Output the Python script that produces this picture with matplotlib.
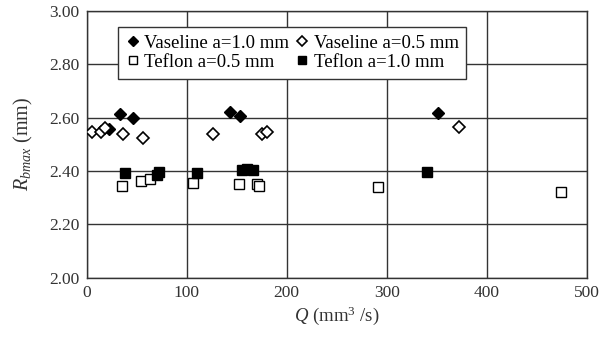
import matplotlib
matplotlib.use("Agg")
import matplotlib.pyplot as plt

plt.rcParams['font.family'] = ['Liberation Serif', 'DejaVu Serif']
plt.rcParams['mathtext.fontset'] = 'custom'
plt.rcParams['mathtext.rm'] = 'Liberation Serif'
plt.rcParams['mathtext.it'] = 'Liberation Serif:italic'

# Vaseline a=1.0 mm (filled diamonds)
vas10_q = [22.7, 33.3, 46, 143.3, 153.3, 351.7]
vas10_r = [2.556, 2.613, 2.600, 2.620, 2.606, 2.617]
# Vaseline a=0.5 mm (open diamonds)
vas05_q = [5.7, 14, 18.3, 36, 56.7, 126.7, 175, 180, 372.7]
vas05_r = [2.547, 2.547, 2.562, 2.539, 2.523, 2.539, 2.539, 2.547, 2.564]
# Teflon a=0.5 mm (open squares)
tef05_q = [35.7, 54.3, 63.3, 106.7, 152.7, 170, 172, 291, 474.3]
tef05_r = [2.345, 2.363, 2.369, 2.356, 2.351, 2.350, 2.345, 2.341, 2.320]
# Teflon a=1.0 mm (filled squares)
tef10_q = [38.3, 70, 72, 110, 155, 160, 166, 340.7]
tef10_r = [2.391, 2.385, 2.395, 2.391, 2.402, 2.406, 2.404, 2.398]

xticks = [0, 100, 200, 300, 400, 500]
yticks = [2.00, 2.20, 2.40, 2.60, 2.80, 3.00]

fig = plt.figure(figsize=(6.01, 3.40), dpi=100)
ax = fig.add_axes([86.7/601, 1 - 277.7/340, 500/601, (277.7-11)/340])

ax.plot(vas10_q, vas10_r, 'D', color='black', ms=6.5, mec='black', mew=1, label='Vaseline a=1.0 mm', zorder=3)
ax.plot(tef05_q, tef05_r, 's', mfc='white', mec='black', ms=6.5, mew=1, label='Teflon a=0.5 mm', zorder=3)
ax.plot(vas05_q, vas05_r, 'D', mfc='white', mec='black', ms=6.5, mew=1.2, label='Vaseline a=0.5 mm', zorder=3)
ax.plot(tef10_q, tef10_r, 's', color='black', ms=6.5, mec='black', label='Teflon a=1.0 mm', zorder=3)

ax.set_xlim(0, 500)
ax.set_ylim(2.0, 3.0)
ax.set_xticks(xticks)
ax.set_yticks(yticks)
ax.set_xticklabels([str(v) for v in xticks])
ax.set_yticklabels([f"{v:.2f}" for v in yticks])
ax.tick_params(length=0, labelsize=12.5, colors='#333333', pad=5)
ax.grid(True, color='#333333', lw=1)
ax.set_axisbelow(True)
for s in ax.spines.values():
    s.set_color('#333333')
    s.set_linewidth(1)

ax.set_xlabel(r'$Q$ (mm$^3$ /s)', fontsize=13.5, color='#333333', labelpad=3)
ax.set_ylabel(r'$R_{bmax}$ (mm)', fontsize=14.5, color='#333333', labelpad=10)

leg = ax.legend(ncol=2, loc='upper left', bbox_to_anchor=((118-86.7)/500, (277.7-27)/266.7),
                frameon=True, fancybox=False, shadow=False, fontsize=13.5,
                handletextpad=0.2, columnspacing=0.3, borderpad=0.4, labelspacing=0.12,
                handlelength=0.8, borderaxespad=0)
leg.get_frame().set_edgecolor('#333333')
leg.get_frame().set_linewidth(1)
leg.get_frame().set_alpha(1)
for h in leg.legend_handles:
    h.set_markersize(5.5)

fig.savefig('out.png', dpi=100)
